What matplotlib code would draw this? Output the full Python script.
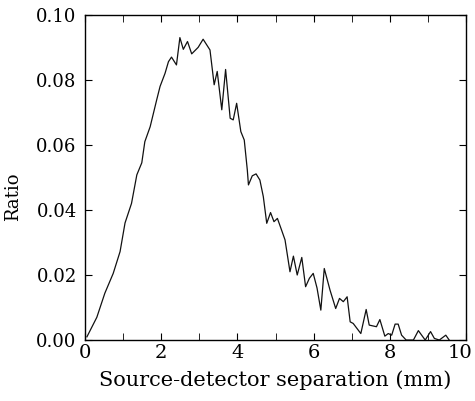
import matplotlib
matplotlib.use("Agg")
import matplotlib.pyplot as plt
import matplotlib.transforms as mtransforms
from matplotlib.ticker import MultipleLocator

# separation (mm) and ratio values
separation = [0.05, 0.31, 0.52, 0.74, 0.92, 1.05, 1.22, 1.36, 1.49, 1.57,
              1.71, 1.88, 1.97, 2.10, 2.19, 2.27, 2.40, 2.49, 2.58, 2.69,
              2.80, 2.97, 3.10, 3.28, 3.39, 3.47, 3.59, 3.69, 3.81, 3.89,
              3.98, 4.09, 4.18, 4.26, 4.29, 4.39, 4.49, 4.59, 4.68, 4.77,
              4.87, 4.96, 5.05, 5.16, 5.25, 5.38, 5.47, 5.57, 5.69, 5.79,
              5.89, 5.99, 6.09, 6.19, 6.28, 6.43, 6.58, 6.68, 6.78, 6.88,
              6.96, 7.04, 7.24, 7.38, 7.46, 7.65, 7.74, 7.87, 7.96, 8.05,
              8.14, 8.22, 8.31, 8.43, 8.62, 8.75, 8.88, 8.93, 9.07, 9.17,
              9.30, 9.47, 9.56]
ratio = [0.0010, 0.0070, 0.0144, 0.0205, 0.0272, 0.0360, 0.0420, 0.0508, 0.0545, 0.0610,
         0.0656, 0.0738, 0.0780, 0.0820, 0.0856, 0.0870, 0.0846, 0.0930, 0.0894, 0.0918,
         0.0880, 0.0900, 0.0925, 0.0892, 0.0785, 0.0826, 0.0708, 0.0832, 0.0682, 0.0677,
         0.0728, 0.0641, 0.0615, 0.0523, 0.0477, 0.0505, 0.0511, 0.0492, 0.0441, 0.0359,
         0.0392, 0.0364, 0.0374, 0.0338, 0.0308, 0.0210, 0.0258, 0.0200, 0.0254, 0.0164,
         0.0190, 0.0205, 0.0160, 0.0092, 0.0220, 0.0154, 0.0097, 0.0128, 0.0118, 0.0133,
         0.0056, 0.0051, 0.0020, 0.0094, 0.0046, 0.0041, 0.0063, 0.0012, 0.0020, 0.0015,
         0.0049, 0.0049, 0.0015, 0.0000, 0.0000, 0.0029, 0.0008, 0.0000, 0.0026, 0.0005,
         0.0000, 0.0015, 0.0000]
x_ticks = [0, 2, 4, 6, 8, 10]
y_ticks = [0.00, 0.02, 0.04, 0.06, 0.08, 0.10]

plt.rcParams["font.family"] = ["DejaVu Serif"]

fig = plt.figure(figsize=(4.75, 4.01), dpi=100)
ax = fig.add_axes([0.179, 0.152, 0.802, 0.811])

ax.plot(separation, ratio, color="#111111", linewidth=0.9)

ax.set_xlim(0, 10)
ax.set_ylim(0, 0.10)
ax.set_xticks(x_ticks)
ax.set_xticklabels([str(v) for v in x_ticks])
ax.xaxis.set_minor_locator(MultipleLocator(1))
ax.set_yticks(y_ticks)
ax.set_yticklabels([f"{v:.2f}" for v in y_ticks])

ax.tick_params(which="both", direction="in", top=True, right=True, length=5)
ax.tick_params(axis="y", labelsize=13, pad=6)
ax.tick_params(axis="x", labelsize=14, pad=3)
for s in ax.spines.values():
    s.set_linewidth(1.0)

# the last label sits a little left so it stays inside the figure
last = ax.get_xticklabels()[-1]
last.set_transform(last.get_transform() +
                   mtransforms.ScaledTranslation(-6 / 100, 0, fig.dpi_scale_trans))

ax.set_xlabel("Source-detector separation (mm)", fontsize=15, labelpad=6)
ax.set_ylabel("Ratio", fontsize=13)
ax.yaxis.set_label_coords(-0.165, 0.44)

fig.savefig("out.png", dpi=100)
